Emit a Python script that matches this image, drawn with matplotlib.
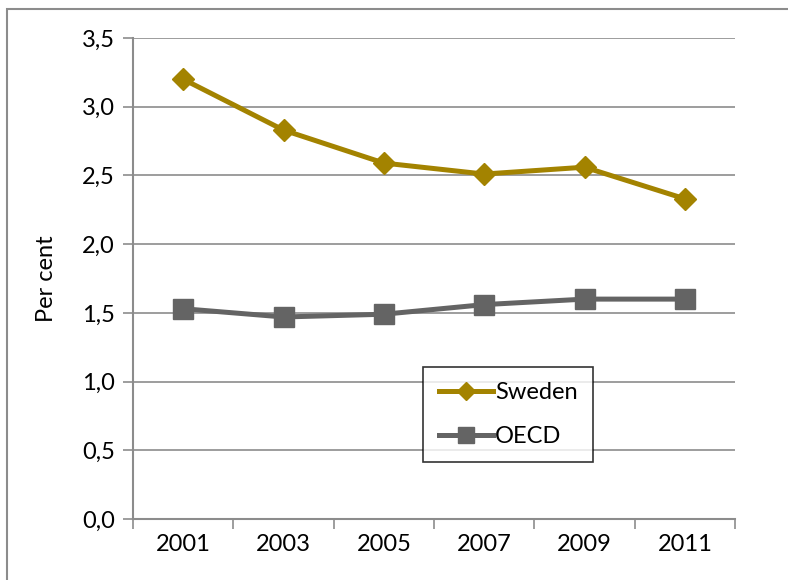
import matplotlib
matplotlib.use("Agg")
import matplotlib.pyplot as plt
from matplotlib.patches import Rectangle

plt.rcParams['font.family'] = ['Lato', 'DejaVu Sans']

years = ["2001", "2003", "2005", "2007", "2009", "2011"]
sweden = [3.20, 2.83, 2.59, 2.51, 2.56, 2.33]
oecd = [1.53, 1.47, 1.49, 1.56, 1.60, 1.60]
y_ticks = [0.0, 0.5, 1.0, 1.5, 2.0, 2.5, 3.0, 3.5]

grey = "#8c8c8c"
fs = 17

fig = plt.figure(figsize=(7.88, 5.80), dpi=100)
ax = fig.add_axes([133 / 788, 61 / 580, 602 / 788, 481 / 580])

# outer chart border, running off the right and bottom edges
fig.patches.append(Rectangle((7 / 788, -0.05), 1.0, 1 - 9 / 580 + 0.05,
                             transform=fig.transFigure, fill=False,
                             edgecolor="#8c8c8c", linewidth=1.5))

x = list(range(len(years)))
ax.plot(x, sweden, color="#a38300", linewidth=3.6, marker="D", markersize=11,
        label="Sweden", solid_joinstyle="round")
ax.plot(x, oecd, color="#646464", linewidth=3.6, marker="s", markersize=14,
        label="OECD", solid_joinstyle="round")

ax.set_xlim(-0.5, len(years) - 0.5)
ax.set_ylim(0, 3.5)
ax.set_yticks(y_ticks)
ax.set_yticklabels([f"{v:.1f}".replace(".", ",") for v in y_ticks])
ax.set_xticks([i - 0.5 for i in range(len(years) + 1)])
ax.set_xticklabels([])
ax.set_xticks(x, minor=True)
ax.set_xticklabels(years, minor=True)
ax.tick_params(axis="x", which="minor", length=0, pad=11, labelsize=fs)
ax.tick_params(axis="x", which="major", length=7, width=1.2, color=grey)
ax.tick_params(axis="y", length=7, width=1.2, color=grey, labelsize=fs, pad=6)

ax.grid(axis="y", color=grey, linewidth=1.2)
ax.set_axisbelow(True)
for side in ["top", "right"]:
    ax.spines[side].set_visible(False)
for side in ["left", "bottom"]:
    ax.spines[side].set_color(grey)
    ax.spines[side].set_linewidth(1.5)

ax.set_ylabel("Per cent", fontsize=fs, labelpad=18)

leg = ax.legend(loc="lower left", bbox_to_anchor=(0.482, 0.118), fontsize=fs,
                frameon=True, fancybox=False, edgecolor="black",
                handlelength=2.3, handletextpad=0.1, labelspacing=0.95,
                borderpad=0.65, borderaxespad=0, markerscale=0.85)
leg.get_frame().set_linewidth(1.2)

fig.savefig("out.png", dpi=100)
